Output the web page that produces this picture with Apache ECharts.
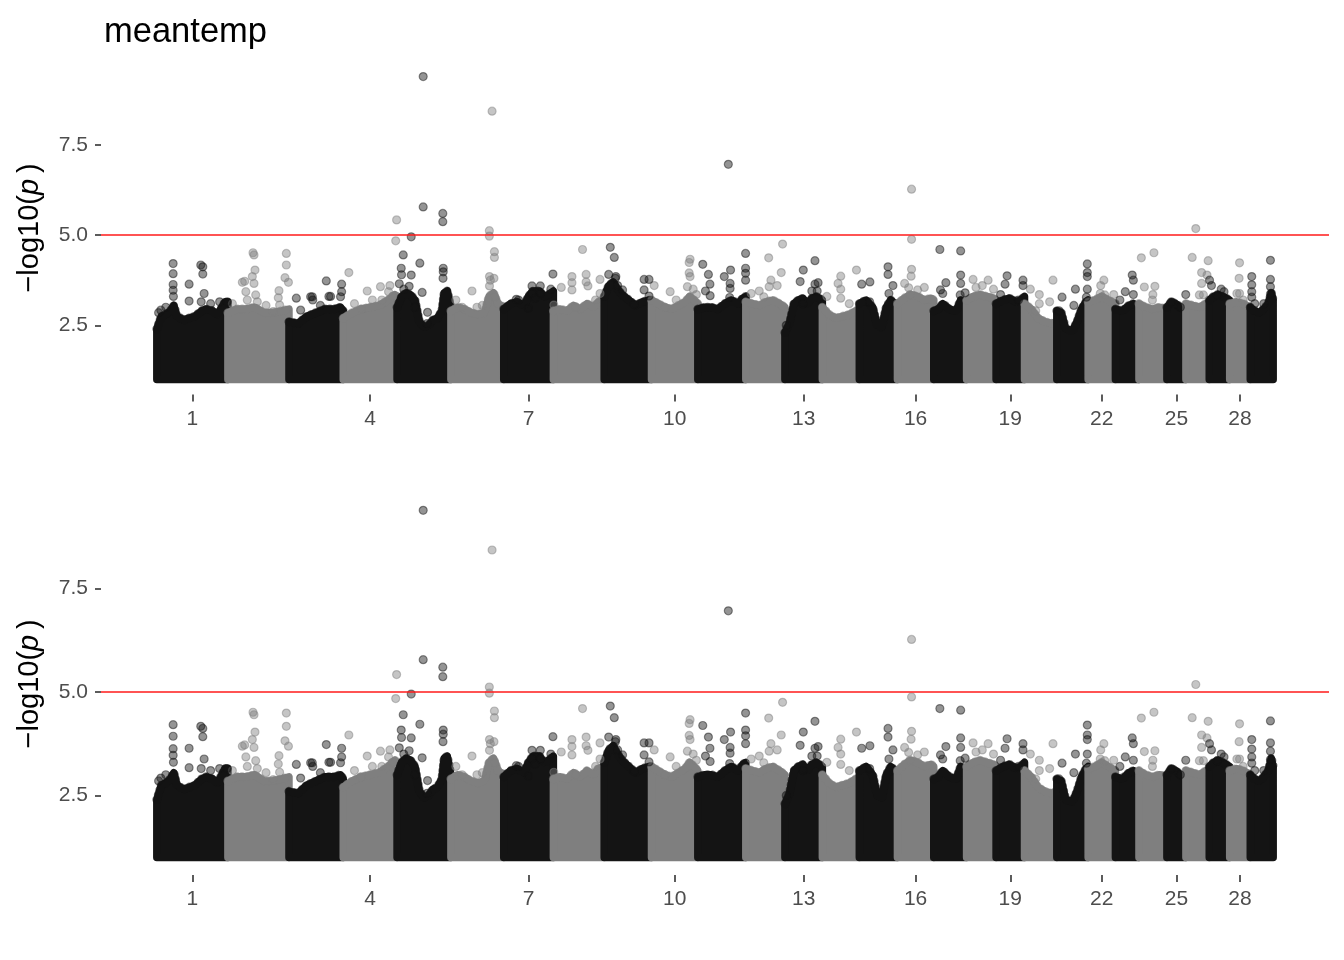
<!DOCTYPE html>
<html>
<head>
<meta charset="utf-8">
<script src="https://cdn.jsdelivr.net/npm/echarts@6/dist/echarts.min.js"></script>
<style>
html,body{margin:0;padding:0;background:#fff;}
#chart{width:1344px;height:960px;}
</style>
</head>
<body>
<div id="chart"></div>
<script>
// ---- data ----
const chromLengths = [158.5,136.2,121.0,120.0,120.1,117.8,110.7,113.3,105.5,103.3,107.0,87.2,83.5,82.4,85.0,81.0,73.2,65.8,63.4,72.0,69.9,60.8,52.5,62.3,42.4,52.0,45.6,45.9,51.1];
const tickChroms = [1,4,7,10,13,16,19,22,25,28];
const yTicks = [2.5, 5.0, 7.5];
const threshold = 5;
const baseValue = 1.0;

// dense band top envelope per chromosome: [position Mb, -log10(p)]
const bandTops = [
 [[0,2.4],[10,2.75],[20,2.8],[30,2.9],[38,3.05],[45,2.75],[60,2.65],[72,2.7],[85,2.75],[100,2.9],[110,2.95],[125,2.9],[135,2.8],[145,3.0],[152,3.15],[158.5,3.15]],
 [[0,2.85],[20,2.95],[40,2.95],[60,3.0],[80,2.85],[100,2.85],[120,2.9],[136.2,2.95]],
 [[0,2.6],[20,2.55],[40,2.75],[60,2.85],[80,2.95],[100,2.95],[115,3.0],[121,2.9]],
 [[0,2.7],[20,2.85],[40,2.95],[60,3.0],[80,3.05],[100,3.2],[115,3.35],[120,3.3]],
 [[0,3.0],[10,3.3],[20,3.4],[30,3.35],[40,3.2],[50,2.6],[60,2.45],[70,2.5],[80,2.65],[90,2.7],[100,2.9],[105,3.4],[112,3.45],[120.1,3.0]],
 [[0,2.9],[15,3.0],[30,2.95],[45,2.85],[60,2.8],[75,2.85],[85,3.3],[95,3.4],[105,3.1],[117.8,3.0]],
 [[0,2.95],[15,3.1],[30,3.15],[45,3.05],[55,3.3],[65,3.45],[80,3.45],[90,3.3],[100,3.35],[110.7,3.45]],
 [[0,2.9],[15,2.95],[30,2.9],[45,3.05],[60,2.95],[75,3.1],[90,3.0],[100,3.15],[113.3,3.2]],
 [[0,3.3],[10,3.6],[20,3.7],[30,3.5],[40,3.35],[55,3.2],[70,3.05],[85,3.15],[100,3.2],[105.5,3.1]],
 [[0,3.2],[15,3.1],[30,3.0],[45,2.95],[60,3.05],[75,3.15],[85,3.3],[95,3.2],[103.3,3.1]],
 [[0,2.95],[15,3.0],[30,3.0],[45,2.95],[60,3.1],[75,3.2],[90,3.1],[100,3.25],[107,3.3]],
 [[0,3.15],[15,3.1],[30,3.05],[45,3.15],[60,3.2],[75,3.1],[87.2,3.0]],
 [[0,2.3],[10,2.55],[20,3.1],[30,3.2],[40,3.25],[50,3.1],[60,3.25],[70,3.3],[83.5,3.2]],
 [[0,3.0],[15,2.8],[30,2.7],[45,2.75],[60,2.8],[75,2.9],[82.4,2.95]],
 [[0,3.1],[15,3.2],[30,3.0],[40,2.5],[50,2.45],[60,3.0],[70,3.2],[80,3.1],[85,3.0]],
 [[0,3.1],[15,3.25],[30,3.35],[45,3.3],[60,3.2],[75,3.25],[81,3.2]],
 [[0,2.9],[10,2.95],[20,3.1],[35,2.95],[50,2.9],[60,3.2],[73.2,3.0]],
 [[0,3.2],[15,3.3],[30,3.35],[45,3.3],[60,3.25],[65.8,3.2]],
 [[0,3.1],[15,3.2],[30,3.25],[45,3.15],[55,3.2],[63.4,3.3]],
 [[0,3.1],[15,2.95],[30,2.7],[45,2.6],[60,2.55],[72,2.6]],
 [[0,2.9],[10,2.85],[20,2.4],[35,2.35],[45,2.6],[55,2.95],[65,3.15],[69.9,3.2]],
 [[0,3.15],[15,3.2],[30,3.3],[45,3.2],[60.8,3.1]],
 [[0,2.95],[15,2.9],[30,3.05],[40,3.1],[52.5,3.0]],
 [[0,3.1],[15,3.0],[30,2.95],[45,3.0],[62.3,2.95]],
 [[0,3.0],[10,3.15],[20,3.1],[30,3.0],[42.4,2.95]],
 [[0,3.1],[15,3.05],[30,3.0],[45,3.1],[52,3.05]],
 [[0,3.2],[10,3.3],[20,3.35],[30,3.3],[45.6,3.2]],
 [[0,3.1],[15,3.15],[30,3.1],[45.9,3.0]],
 [[0,3.0],[10,2.9],[20,2.85],[30,2.95],[40,3.1],[47,3.4],[51.1,3.2]]
];

// individual SNPs standing out of the band: [chromosome, position Mb, -log10(p)]
const hits = [
 [1,8.9,2.92],[1,36.4,4.21],[1,36.4,3.93],[1,36.4,3.63],[1,36.4,3.47],[1,37,3.3],[1,72,3.64],[1,72,3.17],[1,98,4.17],[1,102.5,4.12],[1,102.5,3.92],[1,105.5,3.38],[1,99,3.15],[1,157,3.15],[1,4,2.85],[1,120,3.1],[1,20,3.0],[1,140,3.15],
 [2,32.2,3.69],[2,37.4,3.72],[2,43.3,3.2],[2,40,3.43],[2,54.5,3.85],[2,56,4.51],[2,58.2,4.45],[2,60.4,4.03],[2,58.2,3.66],[2,62,3.34],[2,65.6,3.15],[2,101,2.88],[2,112.4,3.26],[2,113.9,3.46],[2,115.3,3.06],[2,127.3,3.82],[2,130.3,4.49],[2,130.3,4.17],[2,135,3.69],[2,10,3.1],[2,85,3.05],
 [3,16.4,3.25],[3,26,2.92],[3,48.3,3.29],[3,52,3.29],[3,53,3.2],[3,83.2,3.73],[3,89,3.3],[3,92.8,3.3],[3,115,3.29],[3,117.4,3.64],[3,117.4,3.43],[3,70,3.05],
 [4,12.5,3.96],[4,53.5,3.45],[4,83,3.57],[4,101,3.43],[4,40,2.95],[4,86,3.2],[4,117,4.84],[4,119,5.42],[4,110,3.3],[4,104,3.6],[4,25,3.1],[4,65,3.2],
 [5,58.3,9.39],[5,58.3,5.78],[5,31.6,4.95],[5,13.8,4.45],[5,9.3,4.08],[5,50.8,4.22],[5,31.6,3.89],[5,102,5.6],[5,102,5.37],[5,103,4.08],[5,103,3.98],[5,102.5,3.8],[5,56,3.41],[5,5,3.65],[5,15,3.5],[5,27,3.58],[5,39.6,3.0],[5,68,2.86],[5,67,2.55],[5,10,3.9],
 [6,91.8,8.43],[6,85.7,5.12],[6,85.7,4.97],[6,97,4.54],[6,97,4.38],[6,86,3.85],[6,88,3.75],[6,96,3.8],[6,86,3.59],[6,47,3.45],[6,58,3.0],[6,25,3.0],[6,11,3.2],[6,97.7,3.29],[6,70,3.05],
 [7,109.7,3.92],[7,63,3.59],[7,81.6,3.59],[7,63,3.38],[7,81.6,3.38],[7,28,3.22],[7,33,3.2],[7,55,2.97],[7,70,3.25],[7,105,3.5],
 [8,65,4.6],[8,41.4,3.85],[8,41.4,3.68],[8,41.4,3.48],[8,73,3.91],[8,73,3.7],[8,77,3.59],[8,17.6,3.55],[8,104,3.77],[8,104,3.38],[8,1,3.06],[8,50,3.0],[8,94,3.2],
 [9,13.6,4.66],[9,22.5,4.38],[9,26,3.85],[9,25,3.8],[9,10,3.91],[9,41,3.48],[9,67,3.08],[9,89,3.77],[9,100,3.77],[9,89,3.48],[9,100,3.31],[9,30,3.6],
 [10,86,4.33],[10,84,4.24],[10,84,3.95],[10,86,3.85],[10,80,3.57],[10,41.6,3.43],[10,6,3.6],[10,30,3.0],[10,93,3.5],[10,100,3.35],[10,55,3.2],
 [11,68,6.96],[11,11,4.19],[11,23.6,3.91],[11,27,3.64],[11,17,3.45],[11,27.5,3.32],[11,59,3.85],[11,73,4.03],[11,72,3.66],[11,72,3.52],[11,71,3.27],[11,106.5,4.49],[11,106.5,4.08],[11,106.5,3.94],[11,106.5,3.75],
 [12,82,4.75],[12,51,4.37],[12,56,3.75],[12,79,3.96],[12,40,3.29],[12,52,3.57],[12,12,3.38],[12,70,3.6],[12,30,3.45],
 [13,67,4.29],[13,41,4.03],[13,34,3.71],[13,67,3.64],[13,74,3.68],[13,40,3.1],[13,3,2.5],[13,60,3.45],[13,72,3.45],
 [14,76,4.03],[14,41,3.86],[14,41,3.5],[14,41,3.25],[14,35,3.66],[14,10,3.3],[14,60,3.1],
 [15,64,4.12],[15,64,3.91],[15,23.6,3.7],[15,5.3,3.64],[15,66,3.38],[15,23,3.15],[15,75,3.6],
 [16,31.5,6.27],[16,31.5,4.88],[16,31.5,4.05],[16,30.5,3.86],[16,25,3.54],[16,28,3.35],[16,45,3.48],[16,16,3.66],[16,60,3.55],
 [17,13.6,4.6],[17,60,4.56],[17,60,3.89],[17,60,3.66],[17,59,3.34],[17,20,3.38],[17,27,3.68],[17,15,3.48],[17,70,3.4],
 [18,14.5,3.77],[18,48,3.75],[18,21,3.55],[18,35,3.6],[18,60,3.5],
 [19,24.5,3.87],[19,20,3.64],[19,60,3.75],[19,60,3.6],[19,50,3.2],[19,10,3.35],
 [20,63.5,3.75],[20,13,3.5],[20,33,3.35],[20,33,3.1],[20,56,3.15],[20,25,2.9],
 [21,68,4.2],[21,68,3.96],[21,68,3.85],[21,41.5,3.5],[21,11.7,3.28],[21,38,3.05],[21,5,2.9],[21,68,3.5],[21,66,3.28],
 [22,35,3.75],[22,28,3.6],[22,37,3.34],[22,57,3.35],[22,27,3.38],
 [23,37.5,3.89],[23,40,3.75],[23,40,3.35],[23,22,3.43],[23,10,3.2],
 [24,5.3,4.37],[24,33.4,4.51],[24,35.5,3.58],[24,31,3.35],[24,30,3.2],[24,12,3.56],
 [25,10,3.15],[25,42,3.35],[25,30,3.0],
 [26,22,5.18],[26,14,4.38],[26,49.6,4.29],[26,35,3.96],[26,35,3.66],[26,30,3.34],[26,39,3.34],[26,47,3.89],
 [27,0.7,3.75],[27,26.7,3.5],[27,33,3.43],[27,18,3.34],[27,5,3.6],
 [28,22,4.23],[28,21,3.8],[28,22,3.38],[28,16,3.38],[28,30,3.2],
 [29,45,4.3],[29,45,3.77],[29,45,3.57],[29,45,3.37],[29,3.3,3.85],[29,3.3,3.62],[29,3.3,3.43],[29,3.3,3.28],[29,10,3.1],[29,30,3.1]
];

// ---- derived positions ----
const cumStarts = [];
{ let s = 0; chromLengths.forEach(l => { cumStarts.push(s); s += l; }); }
const genomeLen = cumStarts[cumStarts.length-1] + chromLengths[chromLengths.length-1];
const tickValues = tickChroms.map(c => cumStarts[c-1] + chromLengths[c-1]/2);

const BLACK = '#141414', GREY = '#7f7f7f';
const BLACK_A = 'rgba(20,20,20,0.57)', GREY_A = 'rgba(127,127,127,0.57)';
const FONT = 'Liberation Sans, Arial, Helvetica, sans-serif';

const chart = echarts.init(document.getElementById('chart'), null, {renderer:'canvas'});

const grids = [
  {left:101, width:1228, top:61.4, height:333.2},
  {left:101, width:1228, top:492.9, height:382}
];
const xPad = genomeLen*0.05;
const xMin = -xPad, xMax = genomeLen + xPad;
const yMin = 0.58, yMax = 9.81;

function tickLabel(v){
  let best = 0, bd = Infinity;
  tickValues.forEach((t,i)=>{ const d=Math.abs(t-v); if(d<bd){bd=d;best=i;} });
  return String(tickChroms[best]);
}

const xAxes = grids.map((g,i)=>({
  type:'value', gridIndex:i, min:xMin, max:xMax,
  axisLine:{show:false, onZero:false}, splitLine:{show:false},
  axisTick:{show:true, customValues:tickValues, length:7, lineStyle:{color:'#333', width:1.6}},
  axisLabel:{show:true, customValues:tickValues, formatter:tickLabel, fontSize:21, color:'#4d4d4d', fontFamily:FONT, margin:14}
}));
const yAxes = grids.map((g,i)=>({
  type:'value', gridIndex:i, min:yMin, max:yMax,
  axisLine:{show:false, onZero:false}, splitLine:{show:false},
  axisTick:{show:true, customValues:yTicks, length:6, lineStyle:{color:'#333', width:1.6}},
  axisLabel:{show:true, customValues:yTicks, formatter:v=>v.toFixed(1), fontSize:21, color:'#4d4d4d', fontFamily:FONT, margin:13},
  name:'{a|\u2212log10(}{b|p}{a|\u2009)}', nameLocation:'middle', nameRotate:90, nameGap:57,
  nameTextStyle:{fontSize:29, color:'#000', fontFamily:FONT,
    rich:{a:{fontSize:29, color:'#000', fontFamily:FONT}, b:{fontSize:29, color:'#000', fontFamily:FONT, fontStyle:'italic'}}}
}));

function renderBand(params, api){
  const i = api.value(2);
  const start = cumStarts[i];
  const top = bandTops[i].map(p => api.coord([start + p[0], p[1]]));
  const pts = [api.coord([start, baseValue])].concat(top, [api.coord([start + chromLengths[i], baseValue])]);
  const c = (i % 2 === 0) ? BLACK : GREY;
  const ca = (i % 2 === 0) ? BLACK_A : GREY_A;
  return {type:'group', children:[
    {type:'polygon', shape:{points:pts}, style:{fill:c, stroke:c, lineWidth:7.5, lineJoin:'round'}},
    {type:'polyline', shape:{points:top}, style:{fill:null, stroke:ca, lineWidth:9, lineCap:'round', lineDash:[0.01,5]}}
  ]};
}

const bandData = chromLengths.map((l,i)=>[cumStarts[i], baseValue, i]);
const oddHits = hits.filter(h=>h[0]%2===1).map(h=>[cumStarts[h[0]-1]+h[1], h[2]]);
const evenHits = hits.filter(h=>h[0]%2===0).map(h=>[cumStarts[h[0]-1]+h[1], h[2]]);
const thresholdLine = [[xMin, threshold], [xMax, threshold]];

const series = [];
grids.forEach((g,i)=>{
  series.push({type:'custom', xAxisIndex:i, yAxisIndex:i, renderItem:renderBand, data:bandData, encode:{x:0,y:1}, clip:false, z:1, silent:true});
  series.push({type:'scatter', xAxisIndex:i, yAxisIndex:i, data:evenHits, symbol:'circle', symbolSize:8, z:2, silent:true,
    itemStyle:{color:GREY_A, borderColor:GREY_A, borderWidth:1.2}});
  series.push({type:'scatter', xAxisIndex:i, yAxisIndex:i, data:oddHits, symbol:'circle', symbolSize:8, z:3, silent:true,
    itemStyle:{color:BLACK_A, borderColor:BLACK_A, borderWidth:1.2}});
  series.push({type:'line', xAxisIndex:i, yAxisIndex:i, data:thresholdLine, symbol:'none', silent:true, z:4,
    lineStyle:{color:'#ff1a1a', width:1.6, type:'solid'}});
});

chart.setOption({
  animation:false,
  backgroundColor:'#ffffff',
  title:{text:'meantemp', left:99, top:10, textStyle:{fontSize:34.5, fontWeight:'normal', color:'#000', fontFamily:FONT}},
  grid:grids,
  xAxis:xAxes,
  yAxis:yAxes,
  series:series
});
</script>
</body>
</html>
